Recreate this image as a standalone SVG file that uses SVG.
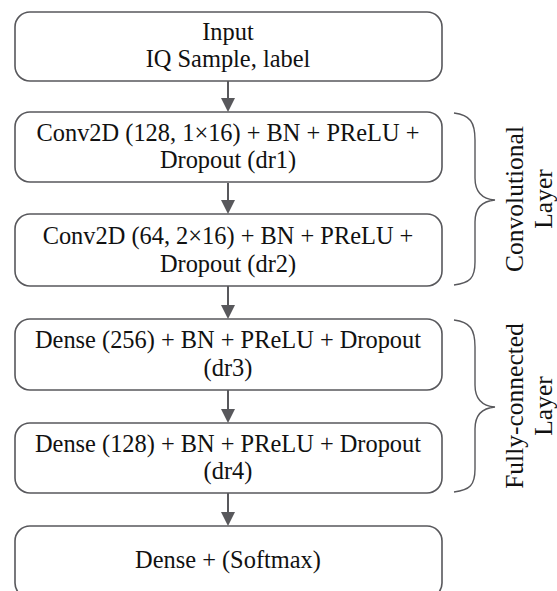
<svg xmlns="http://www.w3.org/2000/svg" width="557" height="591" viewBox="0 0 557 591">
<defs>
<style>
.box{fill:#fff;stroke:#58585c;stroke-width:1.6}
.t{font-family:"Liberation Serif","Times New Roman",serif;font-size:24.4px;fill:#111;text-anchor:middle}
.s{font-size:25.5px}
.c{stroke:#58585c;stroke-width:2;fill:none}
.br{stroke:#58585c;stroke-width:1.4;fill:none}
</style>
<marker id="ah" markerWidth="14" markerHeight="14" refX="12" refY="7" orient="auto" markerUnits="userSpaceOnUse" viewBox="0 0 14 14">
<path d="M0,0 L14,7 L0,14 z" fill="#58585c"/>
</marker>
</defs>
<rect width="557" height="591" fill="#fff"/>
<g id="connectors">
<line class="c" x1="228" y1="81" x2="228" y2="110" marker-end="url(#ah)"/>
<line class="c" x1="228" y1="183" x2="228" y2="212" marker-end="url(#ah)"/>
<line class="c" x1="228" y1="286" x2="228" y2="317" marker-end="url(#ah)"/>
<line class="c" x1="228" y1="390" x2="228" y2="421" marker-end="url(#ah)"/>
<line class="c" x1="228" y1="493" x2="228" y2="524" marker-end="url(#ah)"/>
</g>
<g id="input"><rect class="box" x="15" y="12" width="427" height="69" rx="15"/>
<text class="t" x="228" y="40">Input</text><text class="t" x="228" y="67">IQ Sample, label</text></g>
<g id="conv1"><rect class="box" x="15" y="112" width="427" height="70" rx="15"/>
<text class="t" x="228" y="141">Conv2D (128, 1×16) + BN + PReLU +</text><text class="t" x="228" y="168">Dropout (dr1)</text></g>
<g id="conv2"><rect class="box" x="15" y="214" width="427" height="72" rx="15"/>
<text class="t" x="228" y="244">Conv2D (64, 2×16) + BN + PReLU +</text><text class="t" x="228" y="272">Dropout (dr2)</text></g>
<g id="dense1"><rect class="box" x="15" y="319" width="427" height="71" rx="15"/>
<text class="t" x="228" y="348">Dense (256) + BN + PReLU + Dropout</text><text class="t" x="228" y="376">(dr3)</text></g>
<g id="dense2"><rect class="box" x="15" y="423" width="427" height="70" rx="15"/>
<text class="t" x="228" y="452">Dense (128) + BN + PReLU + Dropout</text><text class="t" x="228" y="479">(dr4)</text></g>
<g id="output"><rect class="box" x="15" y="526" width="427" height="72" rx="15"/>
<text class="t" x="228" y="568">Dense + (Softmax)</text></g>
<g id="conv-brace">
<path class="br" d="M454,113 C470,115 475,122 475,140 L475,178 C475,192 482,199 495,200 C482,201 475,208 475,222 L475,262 C475,278 470,283 454,285"/>
<text class="t s" transform="translate(523,199) rotate(-90)">Convolutional</text>
<text class="t s" transform="translate(552,199) rotate(-90)">Layer</text>
</g>
<g id="fc-brace">
<path class="br" d="M454,320 C470,322 475,329 475,347 L475,385 C475,399 482,406 495,407 C482,408 475,415 475,429 L475,469 C475,485 470,490 454,492"/>
<text class="t s" transform="translate(523,406) rotate(-90)">Fully-connected</text>
<text class="t s" transform="translate(552,406) rotate(-90)">Layer</text>
</g>
</svg>
